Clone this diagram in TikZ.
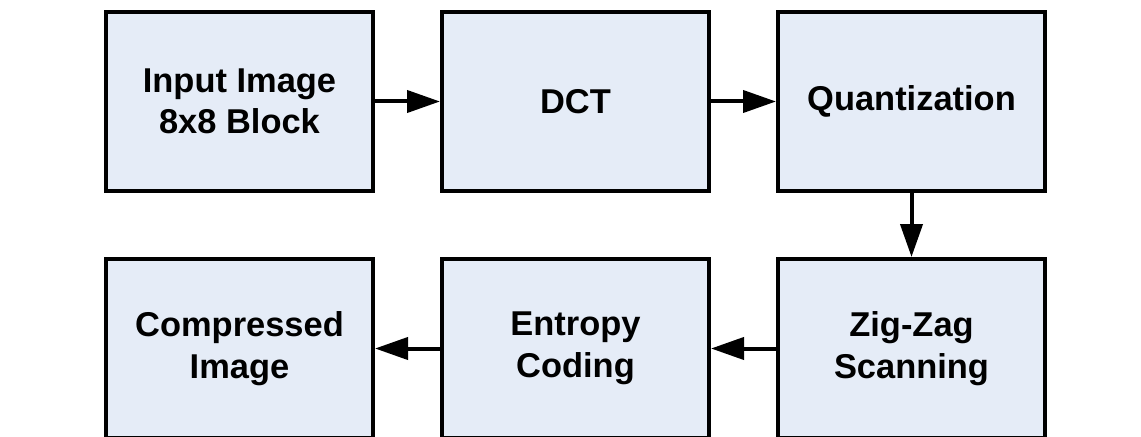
\documentclass[tikz,border=0pt]{standalone}
\usepackage{fontspec}
\setmainfont{Liberation Sans}
\usetikzlibrary{arrows.meta,positioning}
\definecolor{boxfill}{RGB}{229,236,247}

\tikzset{
  block/.style={draw,line width=0.04cm,fill=boxfill,minimum width=2.67cm,minimum height=1.79cm,
    align=center,font=\bfseries\fontsize{9.8}{11.8}\selectfont},
}

\begin{document}
\begin{tikzpicture}[>={Triangle[length=0.33cm,width=0.22cm]},line width=0.04cm,node distance=0.65cm]
\useasboundingbox (0,0) rectangle (11.41,-4.36);

\node[block]   (in)  at (2.395,-1.015) {Input Image\\8x8 Block};
\node[block]   (dct)   [right=of in]  {DCT};
\node[block]   (quant) [right=of dct] {Quantization};
\node[block]   (zig)   [below=0.64cm of quant] {Zig-Zag\\Scanning};
\node[block]   (ent)   [left=of zig]  {Entropy\\Coding};
\node[block]   (out)   [left=of ent]  {Compressed\\Image};

\path[->] (in) edge (dct)
  (dct) edge (quant)
  (quant) edge (zig)
  (zig) edge (ent)
  (ent) edge (out);

\end{tikzpicture}
\end{document}
